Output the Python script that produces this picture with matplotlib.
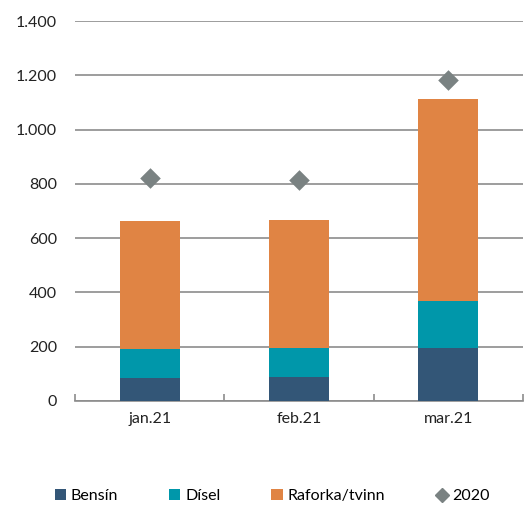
import matplotlib
matplotlib.use("Agg")
import matplotlib.pyplot as plt
from matplotlib.ticker import FuncFormatter
from matplotlib.lines import Line2D
from matplotlib.patches import Patch
import numpy as np

categories = ["jan.21", "feb.21", "mar.21"]
bensin = [86, 90, 196]
disel = [106, 105, 174]
raforka = [471, 471, 743]
y2020 = [822, 813, 1183]

c_bensin = "#335677"
c_disel = "#0097AA"
c_raforka = "#E08444"
c_2020 = "#7A8282"

plt.rcParams['font.family'] = ['Lato', 'DejaVu Sans']

fig = plt.figure(figsize=(5.31, 5.05), dpi=100)
ax = fig.add_axes([75/531, 1 - 401/505, 448/531, 380/505])

x = np.arange(len(categories))
w = 0.4
b1 = np.array(bensin)
b2 = b1 + np.array(disel)
ax.bar(x, bensin, w, color=c_bensin, zorder=3)
ax.bar(x, disel, w, bottom=b1, color=c_disel, zorder=3)
ax.bar(x, raforka, w, bottom=b2, color=c_raforka, zorder=3)
ax.scatter(x, y2020, marker="D", s=110, color=c_2020, zorder=4, linewidths=0)

ax.set_xlim(-0.5, 2.5)
ax.set_ylim(0, 1400)
ax.set_yticks(range(0, 1401, 200))
ax.yaxis.set_major_formatter(FuncFormatter(lambda v, p: f"{int(v):,}".replace(",", ".")))
ax.yaxis.grid(True, color="#8c8c8c", linewidth=1.2, zorder=0)
ax.set_axisbelow(True)
for s in ["top", "right", "left"]:
    ax.spines[s].set_visible(False)
ax.spines["bottom"].set_color("#8c8c8c")
ax.spines["bottom"].set_linewidth(1.2)
ax.tick_params(axis="y", length=0, labelsize=11.5, pad=13, colors="#222222")
ax.set_xticks(x)
ax.set_xticklabels(categories)
ax.tick_params(axis="x", length=0, labelsize=11.5, pad=8, colors="#222222")
ax.set_xticks([-0.5, 0.5, 1.5, 2.5], minor=True)
ax.tick_params(axis="x", which="minor", length=5, direction="in", color="#8c8c8c", width=1.2)

handles = [
    Patch(facecolor=c_bensin, label="Bensín"),
    Patch(facecolor=c_disel, label="Dísel"),
    Patch(facecolor=c_raforka, label="Raforka/tvinn"),
    Line2D([], [], marker="D", color=c_2020, linestyle="none", markersize=7, label="2020"),
]
leg = fig.legend(handles=handles, loc="center", bbox_to_anchor=(272/531, 1 - 496/505), ncol=4,
                 frameon=False, fontsize=11.5, handlelength=0.7, handleheight=0.7,
                 columnspacing=3.2, handletextpad=0.3, borderpad=0, borderaxespad=0)
fig.savefig("out.png", dpi=100)
